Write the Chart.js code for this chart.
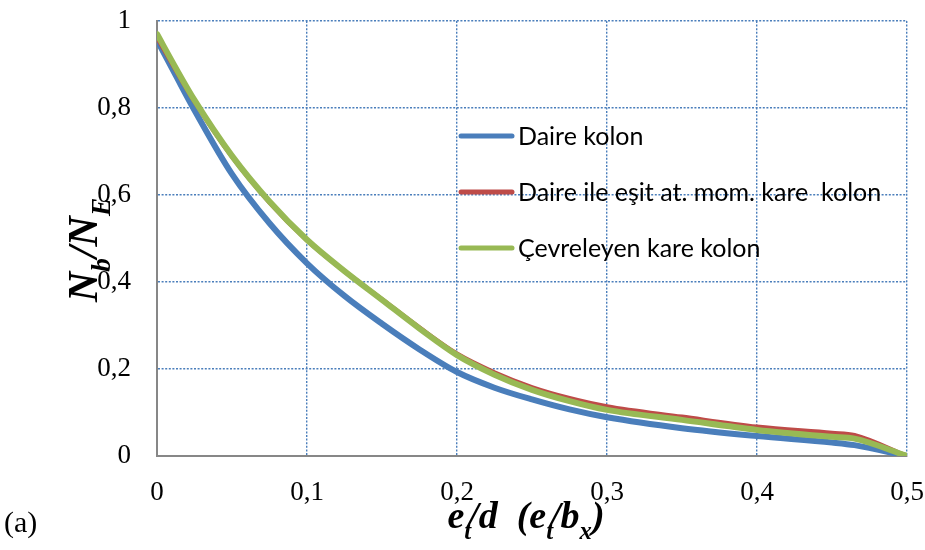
<!DOCTYPE html>
<html lang="tr">
<head>
  <meta charset="UTF-8" />
  <title>Nb/NE - et/d</title>
  <style>
    *{box-sizing:border-box}
    body{margin:0;background:#fff}
    #wrap{width:925px;height:550px;position:relative}
  </style>
</head>
<body>
  <div id="wrap"><canvas id="chart" width="925" height="550"></canvas></div>

  <script src="https://cdn.jsdelivr.net/npm/chart.js"></script>
  <script>
  // eksantrisite oranı e_t/d
  const etd = [0, 0.0125, 0.025, 0.05, 0.075, 0.1, 0.125, 0.15, 0.175, 0.2, 0.225, 0.25, 0.275, 0.3, 0.35, 0.4, 0.45, 0.465, 0.5];
  const daireKolon = [0.956, 0.875, 0.795, 0.648, 0.535, 0.443, 0.368, 0.304, 0.245, 0.193, 0.157, 0.130, 0.107, 0.089, 0.064, 0.046, 0.031, 0.025, 0];
  const esitMomKare = [0.962, 0.887, 0.815, 0.688, 0.583, 0.496, 0.425, 0.360, 0.295, 0.235, 0.192, 0.158, 0.133, 0.114, 0.090, 0.067, 0.053, 0.048, 0];
  const cevreleyenKare = [0.970, 0.892, 0.818, 0.690, 0.585, 0.497, 0.425, 0.359, 0.293, 0.232, 0.187, 0.152, 0.126, 0.106, 0.083, 0.060, 0.044, 0.040, 0];
  const seriesNames = ['Daire kolon', 'Daire ile eşit at. mom. kare  kolon', 'Çevreleyen kare kolon'];
  const seriesColors = ['#4A7EBB', '#BE4B48', '#98B954'];
  const xTicks = [0, 0.1, 0.2, 0.3, 0.4, 0.5];
  const yTicks = [0, 0.2, 0.4, 0.6, 0.8, 1];

  const pts = ys => etd.map((x, i) => ({ x, y: ys[i] }));
  const comma = v => String(Math.round(v * 10) / 10).replace('.', ',');

  // draws text pieces, some of them as subscripts
  function richText(ctx, parts, x, y, size) {
    let cx = x;
    parts.forEach(p => {
      const s = p.sub ? size * 0.65 : size;
      ctx.font = `italic bold ${s}px "Liberation Serif", serif`;
      ctx.fillText(p.t, cx, y + (p.sub ? size * 0.3 : 0));
      cx += ctx.measureText(p.t).width + (p.k || 0);
    });
    return cx - x;
  }
  function richWidth(ctx, parts, size) {
    let w = 0;
    parts.forEach(p => {
      ctx.font = `italic bold ${p.sub ? size * 0.65 : size}px "Liberation Serif", serif`;
      w += ctx.measureText(p.t).width + (p.k || 0);
    });
    return w;
  }

  const xTitle = [{ t: 'e' }, { t: 't', sub: true, k: -3 }, { t: '/d  (e' }, { t: 't', sub: true, k: -3 }, { t: '/b' }, { t: 'x', sub: true }, { t: ')' }];
  const yTitle = [{ t: 'N' }, { t: 'b', sub: true }, { t: '/N' }, { t: 'E', sub: true }];

  const decorations = {
    id: 'decorations',
    afterDatasetsDraw(chart) {
      const ctx = chart.ctx;
      ctx.save();
      // legend inside the plot
      const legY = [136, 192, 248];
      chart.data.datasets.forEach(ds => {
        const j = seriesNames.indexOf(ds.label);
        ctx.strokeStyle = ds.borderColor;
        ctx.lineWidth = 5;
        ctx.lineCap = 'round';
        ctx.beginPath();
        ctx.moveTo(461, legY[j]);
        ctx.lineTo(512, legY[j]);
        ctx.stroke();
        ctx.fillStyle = '#000';
        ctx.font = '25px Lato, sans-serif';
        ctx.textBaseline = 'middle';
        ctx.fillText(ds.label, 518, legY[j] + 1);
      });
      // axis titles
      ctx.fillStyle = '#000';
      ctx.textBaseline = 'alphabetic';
      const xs = 38;
      const xw = richWidth(ctx, xTitle, xs);
      richText(ctx, xTitle, 526 - xw / 2, 528, xs);

      const ys = 42;
      const yw = richWidth(ctx, yTitle, ys);
      ctx.translate(97, 250);
      ctx.rotate(-Math.PI / 2);
      richText(ctx, yTitle, -yw / 2, 0, ys);
      ctx.setTransform(1, 0, 0, 1, 0, 0);

      ctx.font = '30px "Liberation Serif", serif';
      ctx.fillText('(a)', 4, 532);
      ctx.restore();
    }
  };

  const mkSet = (name, data, width, order) => ({
    label: name,
    data: pts(data),
    borderColor: seriesColors[seriesNames.indexOf(name)],
    backgroundColor: seriesColors[seriesNames.indexOf(name)],
    borderWidth: width,
    pointRadius: 0,
    showLine: true,
    cubicInterpolationMode: 'monotone',
    borderCapStyle: 'round',
    order
  });

  const gridOpts = { color: '#4A7EBB', lineWidth: 1.4, drawTicks: false };
  const borderOpts = { color: '#878787', width: 2, dash: [2, 1.6] };
  const tickFont = { family: '"Liberation Serif", serif', size: 27 };

  new Chart(document.getElementById('chart'), {
    type: 'scatter',
    data: {
      datasets: [
        mkSet(seriesNames[0], daireKolon, 6, 2),
        mkSet(seriesNames[1], esitMomKare, 4.5, 1),
        mkSet(seriesNames[2], cevreleyenKare, 6, 0)
      ]
    },
    options: {
      responsive: false,
      animation: false,
      layout: { padding: { left: 0, top: 21, right: 18, bottom: 0 } },
      plugins: { legend: { display: false }, tooltip: { enabled: false } },
      scales: {
        x: {
          type: 'linear', min: 0, max: 0.5,
          afterFit: s => { s.height = 94; s.paddingLeft = 0; s.paddingRight = 0; },
          afterBuildTicks: s => { s.ticks = xTicks.map(v => ({ value: v })); },
          grid: gridOpts, border: borderOpts,
          ticks: { color: '#000', font: tickFont, padding: 21, maxRotation: 0, callback: comma }
        },
        y: {
          min: 0, max: 1,
          afterFit: s => { s.width = 157; s.paddingTop = 0; s.paddingBottom = 0; },
          afterBuildTicks: s => { s.ticks = yTicks.map(v => ({ value: v })); },
          grid: gridOpts, border: borderOpts,
          ticks: { color: '#000', font: tickFont, padding: 26, callback: comma }
        }
      }
    },
    plugins: [decorations]
  });
  </script>
</body>
</html>
